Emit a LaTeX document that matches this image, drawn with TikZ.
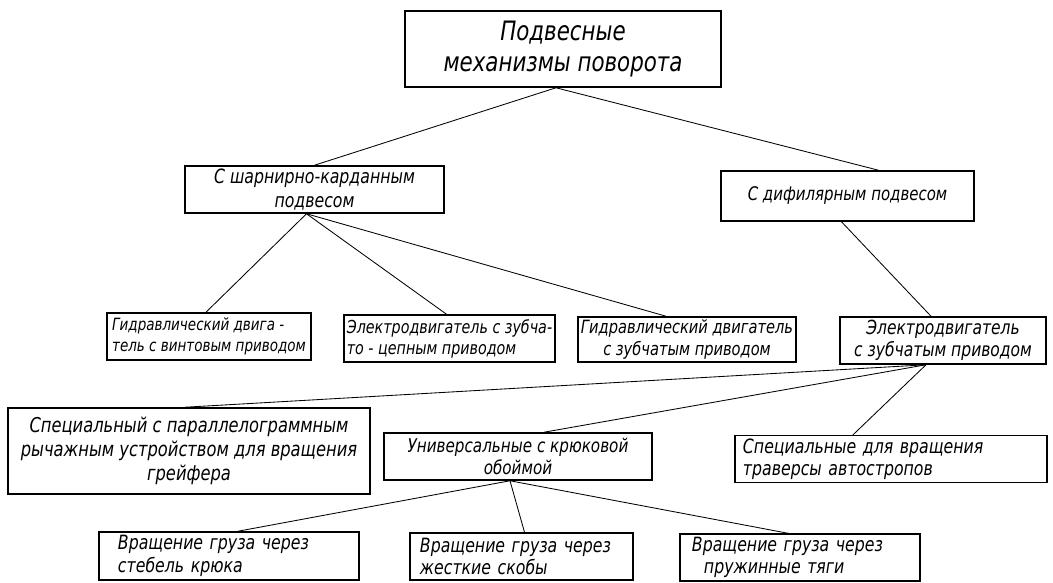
\documentclass[tikz,border=0pt]{standalone}
\usepackage{fontspec}
\setmainfont{DejaVu Sans}[FakeStretch=0.8]
\usetikzlibrary{calc}
\tikzset{
  blok/.style={draw,line width=1.1pt,inner sep=2pt,align=center,font=\itshape\fontsize{13}{15}\selectfont},
  lblok/.style={blok,align=left},
  boxsize/.style 2 args={minimum width=#1*0.025cm,minimum height=#2*0.025cm},
  link/.style={line width=0.6pt}
}
\begin{document}
\begin{tikzpicture}[x=0.025cm,y=-0.025cm]
  \useasboundingbox (0,0) rectangle (1053,583);
  % top
  \node[blok,boxsize={316}{76},font=\itshape\fontsize{19}{22}\selectfont] (root) at (563,49) {Подвесные\\механизмы поворота};
  % second level
  \node[blok,boxsize={259}{47},font=\itshape\fontsize{14}{17}\selectfont] (shar) at (314.5,189.5) {С шарнирно-карданным\\подвесом};
  \node[blok,boxsize={253}{50},font=\itshape\fontsize{13.3}{16}\selectfont] (difi) at (847.5,196) {С дифилярным подвесом};
  % third level
  \node[lblok,boxsize={204}{47},font=\itshape\fontsize{12}{15}\selectfont] (gidrv) at (209,336.5) {Гидравлический двига -\\тель с винтовым приводом};
  \node[lblok,boxsize={209}{47},font=\itshape\fontsize{12.7}{15}\selectfont] (elcep) at (449.5,338.5) {Электродвигатель с зубча-\\то - цепным приводом};
  \node[blok,boxsize={212}{45}] (gidrz) at (687,339.5) {Гидравлический двигатель\\с зубчатым приводом};
  \node[blok,boxsize={206}{47},font=\itshape\fontsize{13.8}{16}\selectfont] (elzub) at (943,340.5) {Электродвигатель\\с зубчатым приводом};
  % fourth level
  \node[blok,boxsize={362}{86},font=\itshape\fontsize{14.5}{17}\selectfont] (graif) at (189,451) {Специальный с параллелограммным\\рычажным устройством для вращения\\грейфера};
  \node[blok,boxsize={268}{47},font=\itshape\fontsize{13.5}{16}\selectfont] (univ) at (518,456.5) {Универсальные с крюковой\\обоймой};
  \node[lblok,boxsize={312}{42},inner xsep=0.2cm,text width=7.4cm,font=\itshape\fontsize{14}{16}\selectfont] (avto) at (891,459) {Специальные для вращения\\траверсы автостропов};
  % fifth level
  \node[lblok,boxsize={260}{48},inner xsep=0.475cm,text width=5.55cm,font=\itshape\fontsize{14}{16}\selectfont] (steb) at (229,556) {Вращение груза через\\стебель крюка};
  \node[lblok,boxsize={223}{47},inner xsep=0.25cm,text width=5.075cm,font=\itshape\fontsize{14}{16}\selectfont] (skob) at (521.5,556.5) {Вращение груза через\\жесткие скобы};
  \node[lblok,boxsize={240}{45},inner xsep=0.3cm,text width=5.4cm,font=\itshape\fontsize{14}{16}\selectfont] (tyag) at (800,557.5) {Вращение груза через\\\hspace*{0.3cm}пружинные тяги};
  % connectors
  \draw[link] ($(root.south)+(-7,0)$) -- (shar.north);
  \draw[link] ($(root.south)+(-7,0)$) -- ($(difi.north)+(31,0)$);
  \draw[link] ($(shar.south)+(-8,0)$) -- ($(gidrv.north)+(-3,0)$);
  \draw[link] ($(shar.south)+(-8,0)$) -- ($(elcep.north)+(-3,0)$);
  \draw[link] ($(shar.south)+(-8,0)$) -- ($(gidrz.north)+(-21,0)$);
  \draw[link] ($(difi.south)+(-6,0)$) -- ($(elzub.north)+(-12,0)$);
  \draw[link] ($(elzub.south)+(-17,0)$) -- ($(graif.north)+(-4,0)$);
  \draw[link] ($(elzub.south)+(-17,0)$) -- ($(univ.north)+(26,0)$);
  \draw[link] ($(elzub.south)+(-17,0)$) -- ($(avto.north)+(-38,0)$);
  \draw[link] ($(univ.south)+(-8,0)$) -- ($(steb.north)+(9,0)$);
  \draw[link] ($(univ.south)+(-8,0)$) -- ($(skob.north)+(3,0)$);
  \draw[link] ($(univ.south)+(-8,0)$) -- ($(tyag.north)+(-11,0)$);
\end{tikzpicture}
\end{document}
